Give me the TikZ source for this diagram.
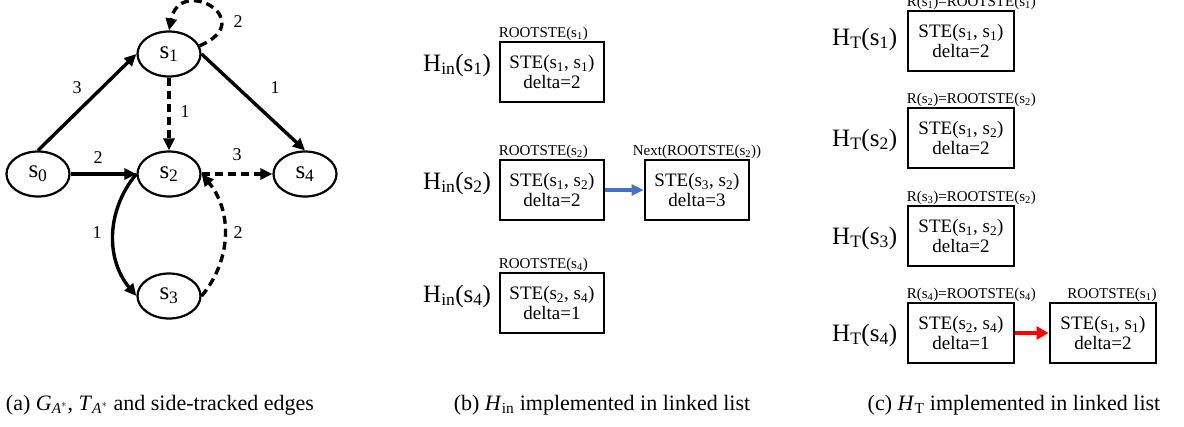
\documentclass[tikz,border=0pt]{standalone}
\usepackage{fontspec}
\setmainfont{Liberation Serif}
\usetikzlibrary{arrows.meta,shapes.geometric}
\definecolor{linkblue}{RGB}{68,114,196}
\begin{document}
\begin{tikzpicture}[x=1pt,y=-1pt,
  st/.style={draw, ellipse, line width=2.2pt, minimum width=63pt, minimum height=45pt, inner sep=0pt, font=\fontsize{25}{27}\selectfont},
  ed/.style={line width=3.4pt, -{Triangle[length=12pt,width=11pt]}},
  dsh/.style={ed, dash pattern=on 8pt off 5pt},
  wlab/.style={font=\fontsize{18}{20}\selectfont, inner sep=0pt},
  bx/.style={draw, line width=2.9pt, minimum width=104pt, minimum height=60pt, align=center, inner sep=0pt, font=\fontsize{19}{20}\selectfont},
  cbx/.style={bx, minimum width=106pt},
  toplab/.style={font=\fontsize{15}{16}\selectfont, inner sep=0pt},
  hlab/.style={font=\fontsize{25}{27}\selectfont, inner sep=0pt, anchor=base west},
  captxt/.style={font=\fontsize{22}{24}\selectfont, inner sep=0pt, anchor=base},
  blink/.style={line width=3.2pt, draw=linkblue, -{Triangle[length=12pt,width=11pt]}},
  rlink/.style={line width=4.2pt, draw=red, -{Triangle[length=12pt,width=13pt]}}
]
\useasboundingbox (0,0) rectangle (1184,426);

% ---------- (a) graph ----------
\node[st] (s0) at (38,174) {s\textsubscript{0}};
\node[st] (s1) at (169,54) {s\textsubscript{1}};
\node[st] (s2) at (169,174) {s\textsubscript{2}};
\node[st] (s3) at (169,296) {s\textsubscript{3}};
\node[st] (s4) at (305,174) {s\textsubscript{4}};

\draw[ed] (s0.north) -- (s1.west);
\draw[ed] (s1.east) -- (s4.north);
\draw[dsh] (s1.south) -- (s2.north);
\draw[ed] (s0.east) -- (s2.west);
\draw[dsh] (s2.east) -- (s4.west);
\draw[ed] (s2.west) to[bend right=40] (s3.west);
\draw[dsh] (s3.east) to[bend right=40] (s2.east);
\draw[dsh] (s1.15) .. controls (260,20) and (180,-25) .. (s1.north);

\node[wlab] (w01) at (77,88) {3};
\node[wlab] (w14) at (275,88) {1};
\node[wlab] (w12) at (185,112) {1};
\node[wlab] (w02) at (98,158) {2};
\node[wlab] (w24) at (237,155) {3};
\node[wlab] (w23) at (97,233) {1};
\node[wlab] (w32) at (238,233) {2};
\node[wlab] (w11) at (238,22) {2};

% ---------- (b) H_in ----------
\node[bx] (b1) at (552,72) {STE(s\textsubscript{1}, s\textsubscript{1})\\delta=2};
\node[bx] (b2) at (552,190) {STE(s\textsubscript{1}, s\textsubscript{2})\\delta=2};
\node[bx] (b3) at (697,190) {STE(s\textsubscript{3}, s\textsubscript{2})\\delta=3};
\node[bx] (b4) at (552,303) {STE(s\textsubscript{2}, s\textsubscript{4})\\delta=1};

\node[toplab, anchor=base west] (tb1) at ([yshift=3pt]b1.north west) {ROOTSTE(s\textsubscript{1})};
\node[toplab, anchor=base west] (tb2) at ([yshift=3pt]b2.north west) {ROOTSTE(s\textsubscript{2})};
\node[toplab, anchor=base] (tb3) at ([yshift=3pt]b3.north) {Next(ROOTSTE(s\textsubscript{2}))};
\node[toplab, anchor=base west] (tb4) at ([yshift=3pt]b4.north west) {ROOTSTE(s\textsubscript{4})};

\node[hlab] (hb1) at (423,71) {H\textsubscript{in}(s\textsubscript{1})};
\node[hlab] (hb2) at (423,189) {H\textsubscript{in}(s\textsubscript{2})};
\node[hlab] (hb4) at (423,302) {H\textsubscript{in}(s\textsubscript{4})};

\draw[blink] (b2.east) -- (b3.west);

% ---------- (c) H_T ----------
\node[cbx] (c1) at (961,41) {STE(s\textsubscript{1}, s\textsubscript{1})\\delta=2};
\node[cbx] (c2) at (961,138) {STE(s\textsubscript{1}, s\textsubscript{2})\\delta=2};
\node[cbx] (c3) at (961,236) {STE(s\textsubscript{1}, s\textsubscript{2})\\delta=2};
\node[cbx] (c4) at (961,333) {STE(s\textsubscript{2}, s\textsubscript{4})\\delta=1};
\node[cbx] (c5) at (1103,333) {STE(s\textsubscript{1}, s\textsubscript{1})\\delta=2};

\node[toplab, anchor=base west] (tc1) at ([yshift=3pt]c1.north west) {R(s\textsubscript{1})=ROOTSTE(s\textsubscript{1})};
\node[toplab, anchor=base west] (tc2) at ([yshift=3pt]c2.north west) {R(s\textsubscript{2})=ROOTSTE(s\textsubscript{2})};
\node[toplab, anchor=base west] (tc3) at ([yshift=3pt]c3.north west) {R(s\textsubscript{3})=ROOTSTE(s\textsubscript{2})};
\node[toplab, anchor=base west] (tc4) at ([yshift=3pt]c4.north west) {R(s\textsubscript{4})=ROOTSTE(s\textsubscript{4})};
\node[toplab, anchor=base] (tc5) at ([xshift=9pt,yshift=3pt]c5.north) {ROOTSTE(s\textsubscript{1})};

\node[hlab] (hc1) at (832,45) {H\textsubscript{T}(s\textsubscript{1})};
\node[hlab] (hc2) at (832,146) {H\textsubscript{T}(s\textsubscript{2})};
\node[hlab] (hc3) at (832,244) {H\textsubscript{T}(s\textsubscript{3})};
\node[hlab] (hc4) at (832,341) {H\textsubscript{T}(s\textsubscript{4})};

\draw[rlink] (c4.east) -- (c5.west);

% ---------- captions ----------
\node[captxt] (capa) at (160,410) {(a) \textit{G}\textsubscript{\textit{A}$^{*}$}, \textit{T}\textsubscript{\textit{A}$^{*}$} and side-tracked edges};
\node[captxt] (capb) at (602,410) {(b) \textit{H}\textsubscript{in} implemented in linked list};
\node[captxt] (capc) at (1014,410) {(c) \textit{H}\textsubscript{T} implemented in linked list};
\end{tikzpicture}
\end{document}
